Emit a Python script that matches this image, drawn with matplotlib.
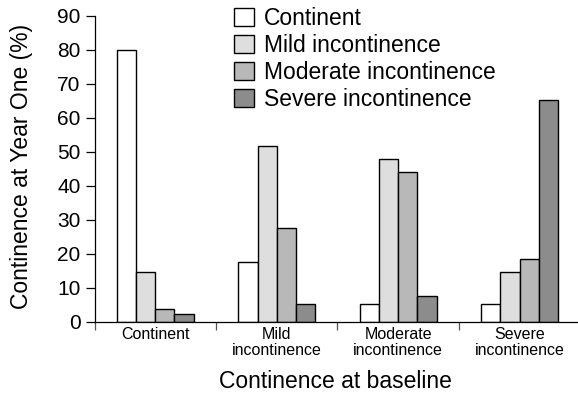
import matplotlib
matplotlib.use("Agg")
import matplotlib.pyplot as plt
import numpy as np

plt.rcParams['font.family'] = ['Liberation Sans', 'DejaVu Sans']

baseline_groups = ["Continent", "Mild\nincontinence", "Moderate\nincontinence", "Severe\nincontinence"]
series_names = ["Continent", "Mild incontinence", "Moderate incontinence", "Severe incontinence"]

continent = [80.0, 17.6, 5.2, 5.2]
mild = [14.6, 51.6, 47.8, 14.6]
moderate = [3.6, 27.6, 43.9, 18.3]
severe = [2.3, 5.1, 7.4, 65.1]

series_values = [continent, mild, moderate, severe]
colors = ["#ffffff", "#dedede", "#b8b8b8", "#8c8c8c"]

fig = plt.figure(figsize=(5.78, 3.97), dpi=100)
ax = fig.add_axes([0.1635, 0.190, 0.8365, 0.7705])

x = np.arange(len(baseline_groups))
width = 0.158
offsets = (np.arange(4) - 1.5) * width
for vals, name, col, off in zip(series_values, series_names, colors, offsets):
    ax.bar(x + off, vals, width=width, color=col, edgecolor="black",
           linewidth=1.0, label=name, zorder=2)

ax.set_xlim(-0.5, 3.48)
ax.set_ylim(0, 90)
ax.set_yticks(np.arange(0, 91, 10))
ax.tick_params(axis="y", labelsize=15, length=6.5, width=0.9, pad=3.5)

ax.set_xticks(x)
ax.set_xticklabels(baseline_groups, fontsize=11.5, linespacing=1.1)
ax.tick_params(axis="x", which="major", length=0, pad=4)
ax.set_xticks(np.arange(-0.5, 3.0, 1.0), minor=True)
ax.tick_params(axis="x", which="minor", length=6, width=0.9, color="#555555")

for side in ("top", "right"):
    ax.spines[side].set_visible(False)
ax.spines["left"].set_linewidth(0.9)
ax.spines["bottom"].set_linewidth(0.9)

ax.set_ylabel("Continence at Year One (%)", fontsize=16.5)
ax.yaxis.set_label_coords(22 / 578, 1 - 166 / 397, transform=fig.transFigure)
ax.set_xlabel("Continence at baseline", fontsize=16.5)
ax.xaxis.set_label_coords(335 / 578, 1 - 382 / 397, transform=fig.transFigure)
ax.xaxis.label.set_va("center")
ax.yaxis.label.set_va("center")

leg = ax.legend(loc="upper left", bbox_to_anchor=(234 / 578, 1 - 7 / 397),
                bbox_transform=fig.transFigure, frameon=False, fontsize=16.5,
                handlelength=0.87, handleheight=0.83, handletextpad=0.44,
                labelspacing=0.17, borderaxespad=0, borderpad=0)

fig.savefig("out.png", dpi=100)
